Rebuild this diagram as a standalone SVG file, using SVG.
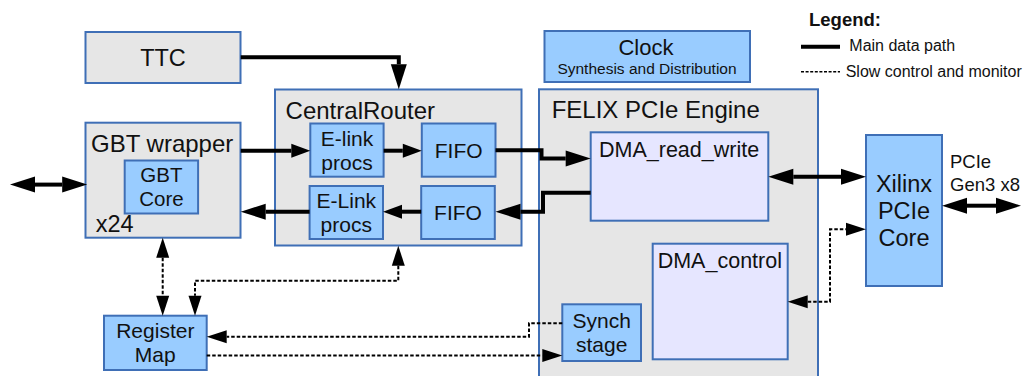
<svg xmlns="http://www.w3.org/2000/svg" width="1027" height="376" viewBox="0 0 1027 376">
<style>
text{font-family:"Liberation Sans",Arial,sans-serif;fill:#111}
.box{stroke:#3f6fb6;stroke-width:2}
.gray{fill:#e6e6e6}
.blue{fill:#99ccff}
.lav{fill:#e6e6ff}
.big{font-size:24px}
.med{font-size:21px}
.c{text-anchor:middle}
.solid{fill:none;stroke:#000;stroke-width:4}
.dash{fill:none;stroke:#000;stroke-width:2;stroke-dasharray:3.5 2}
</style>
<defs>
<marker id="a" markerUnits="userSpaceOnUse" markerWidth="26" markerHeight="18" refX="0" refY="8" orient="auto-start-reverse" viewBox="0 0 26 16" overflow="visible"><path d="M0,0 L25,8 L0,16 z" fill="#000"/></marker>
<marker id="s" markerUnits="userSpaceOnUse" markerWidth="20" markerHeight="15" refX="0" refY="7" orient="auto-start-reverse" viewBox="0 0 20 14" overflow="visible"><path d="M0,0 L19,7 L0,14 z" fill="#000"/></marker>
<marker id="d" markerUnits="userSpaceOnUse" markerWidth="21" markerHeight="14" refX="0" refY="6.5" orient="auto-start-reverse" viewBox="0 0 21 13" overflow="visible"><path d="M0,0 L20,6.5 L0,13 z" fill="#000"/></marker>
</defs>
<rect width="1027" height="376" fill="#fff"/>

<g id="ttc"><rect class="box gray" x="85.5" y="32" width="155" height="51"/><text class="c" x="163" y="66" font-size="23.5">TTC</text></g>
<g id="clock"><rect class="box blue" x="544.5" y="31" width="205.5" height="51"/><text class="c" x="646" y="55" font-size="22">Clock</text><text class="c" x="647" y="74" font-size="15.5">Synthesis and Distribution</text></g>
<g id="centralrouter"><rect class="box gray" x="275" y="89.5" width="246.5" height="156"/><text class="big" x="285.6" y="119">CentralRouter</text></g>
<g id="gbtwrapper"><rect class="box gray" x="85.5" y="122.7" width="155" height="115"/><text class="big" x="91" y="152">GBT wrapper</text><text font-size="23.5" x="95.7" y="232">x24</text></g>
<g id="gbtcore"><rect class="box blue" x="124.7" y="160.5" width="73.4" height="53"/><text class="c" x="161.4" y="182" font-size="20.5">GBT</text><text class="c" x="161.4" y="205.5" font-size="20.5">Core</text></g>
<g id="elink-top"><rect class="box blue" x="310.3" y="123.5" width="73.3" height="53.2"/><text class="c med" x="347" y="146">E-link</text><text class="c med" x="347" y="170">procs</text></g>
<g id="fifo-top"><rect class="box blue" x="421.8" y="123.5" width="73.7" height="53.2"/><text class="c med" x="458.7" y="158">FIFO</text></g>
<g id="elink-bot"><rect class="box blue" x="309.6" y="186" width="73.4" height="53"/><text class="c med" x="346.3" y="208">E-Link</text><text class="c med" x="346.3" y="231.7">procs</text></g>
<g id="fifo-bot"><rect class="box blue" x="421.2" y="186" width="73.6" height="53"/><text class="c med" x="458" y="220">FIFO</text></g>
<g id="felix"><rect class="box gray" x="539" y="89.3" width="279" height="300"/><text class="big" x="551.7" y="117.7">FELIX PCIe Engine</text></g>
<g id="dma-rw"><rect class="box lav" x="590.7" y="132.3" width="177.6" height="88.4"/><text x="599" y="157.3" font-size="21.5">DMA_read_write</text></g>
<g id="dma-control"><rect class="box lav" x="652.7" y="243.7" width="135" height="115.6"/><text x="657.7" y="268.3" font-size="21.5">DMA_control</text></g>
<g id="synch"><rect class="box blue" x="562.3" y="304.3" width="78.7" height="56.7"/><text class="c med" x="601.7" y="328.3">Synch</text><text class="c med" x="601.7" y="351.7">stage</text></g>
<g id="xilinx"><rect class="box blue" x="866" y="135" width="76" height="151"/><text class="c" x="904" y="191.7" font-size="23.5">Xilinx</text><text class="c" x="904" y="218.5" font-size="23.5">PCIe</text><text class="c" x="904" y="245.5" font-size="23.5">Core</text></g>
<g id="pcie-label"><text x="950" y="168.3" font-size="18.5">PCIe</text><text x="950" y="190.7" font-size="18.5">Gen3 x8</text></g>
<g id="regmap"><rect class="box blue" x="104" y="315.7" width="102.7" height="54.3"/><text class="c med" x="155.3" y="338.3">Register</text><text class="c med" x="155.3" y="362.3">Map</text></g>

<g id="legend">
<text x="809" y="26" font-size="18.5" font-weight="bold">Legend:</text>
<line x1="801" y1="46.7" x2="840" y2="46.7" stroke="#000" stroke-width="4"/>
<text x="849.3" y="50.7" font-size="16">Main data path</text>
<line x1="801" y1="71.7" x2="840" y2="71.7" stroke="#000" stroke-width="1.5" stroke-dasharray="3 1.6"/>
<text x="845.7" y="76.7" font-size="16">Slow control and monitor</text>
</g>

<g id="connectors">
<path class="solid" d="M240.7,57.3 H398.8 V64.3" marker-end="url(#a)"/>
<path class="solid" d="M35,184.6 H62.2" marker-start="url(#a)" marker-end="url(#a)"/>
<path class="solid" d="M240.7,150.7 H291.3" marker-end="url(#s)"/>
<path class="solid" d="M383.6,150.7 H402.8" marker-end="url(#s)"/>
<path class="solid" d="M495.5,150.3 H541.5 V158.5 H565.7" marker-end="url(#a)"/>
<path class="solid" d="M590.7,192.7 H543 V211.7 H520.5" marker-end="url(#a)"/>
<path class="solid" d="M421.2,211.7 H402" marker-end="url(#s)"/>
<path class="solid" d="M309.6,211.7 H265.7" marker-end="url(#a)"/>
<path class="solid" d="M793.3,176.7 H841" marker-start="url(#a)" marker-end="url(#a)"/>
<path class="solid" d="M967,205.7 H996" marker-start="url(#a)" marker-end="url(#a)"/>
<path class="dash" d="M162.7,257.7 V295.7" marker-start="url(#d)" marker-end="url(#d)"/>
<path class="dash" d="M398.3,265.7 V280.7 H195 V295.7" marker-start="url(#d)" marker-end="url(#d)"/>
<path class="dash" d="M562.3,323.3 H529 V336.7 H226.7" marker-end="url(#d)"/>
<path class="dash" d="M206.7,355.5 H542.3" marker-end="url(#d)"/>
<path class="dash" d="M807.7,301.7 H830 V229.3 H846" marker-start="url(#d)" marker-end="url(#d)"/>
</g>
</svg>
